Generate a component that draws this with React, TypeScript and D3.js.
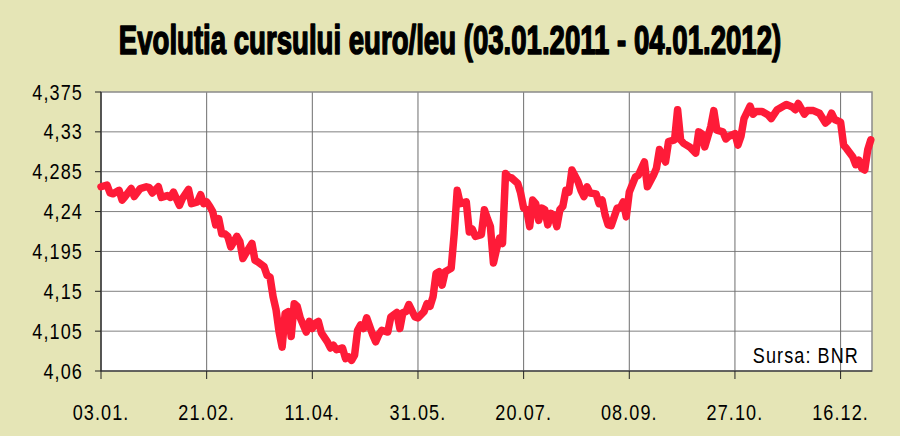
import React from "react";
import * as d3 from "d3";

// business-day index (0 = 03.01.2011) and EUR/RON rate
const dayIndex = [
  0, 2, 3, 4, 6, 7, 8, 10, 11, 13, 15, 16, 17, 19, 20, 22, 23, 24, 26, 27, 29, 30,
  32, 33, 34, 35, 36, 37, 38, 39, 40, 41, 42, 43, 45, 46, 47, 48, 50, 51, 52, 54,
  55, 56, 57, 58, 59, 60, 61, 62, 63, 64, 65, 66, 68, 69, 70, 71, 72, 73, 75, 76,
  77, 78, 80, 81, 82, 83, 84, 85, 86, 87, 88, 90, 91, 92, 93, 95, 96, 98, 99, 100,
  101, 102, 104, 105, 107, 108, 109, 110, 111, 112, 113, 114, 116, 117, 118, 119,
  121, 122, 123, 124, 126, 127, 128, 129, 130, 131, 132, 133, 134, 135, 136, 138,
  139, 140, 141, 142, 143, 144, 145, 146, 147, 148, 149, 150, 151, 152, 153, 154,
  155, 156, 158, 159, 160, 161, 162, 164, 165, 166, 167, 168, 169, 171, 172, 173,
  174, 175, 177, 178, 180, 181, 183, 184, 185, 187, 188, 190, 191, 192, 193, 195,
  197, 198, 199, 200, 202, 203, 204, 206, 207, 208, 210, 211, 212, 213, 215, 216,
  217, 219, 221, 222, 224, 225, 227, 229, 230, 231, 233, 234, 236, 238, 240, 241,
  242, 243, 245, 246, 247, 249, 250, 251, 252, 253, 254, 255,
];

const rate = [
  4.268, 4.27, 4.261, 4.26, 4.264, 4.253, 4.257, 4.266, 4.257, 4.266, 4.268, 4.267,
  4.261, 4.268, 4.256, 4.258, 4.256, 4.262, 4.247, 4.255, 4.265, 4.249, 4.251,
  4.259, 4.249, 4.251, 4.246, 4.24, 4.225, 4.232, 4.215, 4.215, 4.212, 4.2, 4.212,
  4.206, 4.187, 4.193, 4.204, 4.185, 4.183, 4.178, 4.168, 4.166, 4.144, 4.129,
  4.104, 4.087, 4.125, 4.127, 4.099, 4.136, 4.133, 4.12, 4.104, 4.116, 4.108,
  4.114, 4.116, 4.103, 4.093, 4.086, 4.089, 4.084, 4.086, 4.074, 4.076, 4.072,
  4.078, 4.106, 4.112, 4.108, 4.12, 4.101, 4.093, 4.101, 4.106, 4.104, 4.121,
  4.126, 4.108, 4.126, 4.127, 4.135, 4.121, 4.12, 4.127, 4.136, 4.133, 4.144, 4.17,
  4.172, 4.157, 4.172, 4.176, 4.215, 4.264, 4.249, 4.251, 4.217, 4.22, 4.212,
  4.214, 4.242, 4.232, 4.223, 4.182, 4.197, 4.21, 4.204, 4.283, 4.279, 4.278,
  4.272, 4.261, 4.244, 4.242, 4.223, 4.253, 4.249, 4.23, 4.244, 4.242, 4.225,
  4.238, 4.236, 4.223, 4.242, 4.246, 4.264, 4.262, 4.287, 4.274, 4.264, 4.257,
  4.268, 4.261, 4.26, 4.249, 4.253, 4.236, 4.225, 4.224, 4.244, 4.244, 4.251,
  4.234, 4.262, 4.279, 4.281, 4.296, 4.268, 4.281, 4.289, 4.31, 4.296, 4.319,
  4.321, 4.355, 4.321, 4.317, 4.313, 4.306, 4.33, 4.328, 4.313, 4.336, 4.354,
  4.332, 4.33, 4.322, 4.325, 4.328, 4.315, 4.325, 4.345, 4.359, 4.35, 4.353, 4.353,
  4.349, 4.345, 4.355, 4.357, 4.361, 4.358, 4.355, 4.362, 4.35, 4.354, 4.354,
  4.351, 4.34, 4.343, 4.351, 4.344, 4.341, 4.315, 4.311, 4.302, 4.293, 4.298,
  4.289, 4.287, 4.31, 4.321,
];

const xTickIndex = [0, 35, 70, 105, 140, 175, 210, 245];
const xTickLabels = ["03.01.", "21.02.", "11.04.", "31.05.", "20.07.", "08.09.", "27.10.", "16.12."];
const yTicks = [4.06, 4.105, 4.15, 4.195, 4.24, 4.285, 4.33, 4.375];
const yTickLabels = ["4,06", "4,105", "4,15", "4,195", "4,24", "4,285", "4,33", "4,375"];

const titleText = "Evolutia cursului euro/leu (03.01.2011 - 04.01.2012)";
const sourceText = "Sursa: BNR";

const W = 900;
const H = 436;
const L = 101;
const R = 872;
const T = 92;
const B = 371;

const FONT = "'Liberation Sans', Arial, Helvetica, sans-serif";

// condensed label helper: draws text horizontally squeezed around its anchor
function Label(props: { x: number; y: number; anchor: "start" | "middle" | "end"; text: string; size?: number; sx?: number; ls?: number }) {
  const { x, y, anchor, text, size = 21.5, sx = 0.84, ls = 1.3 } = props;
  return (
    <text
      transform={`translate(${x},${y}) scale(${sx},1)`}
      textAnchor={anchor}
      fontFamily={FONT}
      fontSize={size}
      letterSpacing={ls}
      fill="#000"
    >
      {text}
    </text>
  );
}

export default function App() {
  const x = d3.scaleLinear().domain([0, 255.4]).range([L, R]);
  const y = d3.scaleLinear().domain([4.06, 4.375]).range([B, T]);
  const pts: [number, number][] = dayIndex.map((d, i) => [d, rate[i]]);
  const line = d3
    .line<[number, number]>()
    .x((d) => x(d[0]))
    .y((d) => y(d[1]))
    .curve(d3.curveLinear);

  return (
    <svg
      width={W}
      height={H}
      style={{ position: "absolute", left: 0, top: 0, display: "block" }}
    >
      <rect x={0} y={0} width={W} height={H} fill="#e5e5b6" />
      <text
        transform="translate(450,54) scale(0.673,1)"
        textAnchor="middle"
        fontFamily={FONT}
        fontWeight="bold"
        fontSize={41}
        fill="#000"
        stroke="#000"
        strokeWidth={1.6}
        strokeLinejoin="round"
      >
        {titleText}
      </text>

      <rect x={L} y={T} width={R - L} height={B - T} fill="#ffffff" />

      {yTicks.slice(1, -1).map((v) => (
        <line key={"gy" + v} x1={L} x2={R} y1={y(v)} y2={y(v)} stroke="#808080" strokeWidth={1} />
      ))}
      {xTickIndex.slice(1).map((d) => (
        <line key={"gx" + d} x1={x(d)} x2={x(d)} y1={T} y2={B} stroke="#6e6e6e" strokeWidth={1} />
      ))}

      <Label x={859} y={363} anchor="end" text={sourceText} />

      {/* plot border */}
      <rect x={L} y={T} width={R - L} height={B - T} fill="none" stroke="#8a8a8a" strokeWidth={1.5} />

      {/* axes */}
      <line x1={L} x2={L} y1={T} y2={B} stroke="#222" strokeWidth={1.2} />
      <line x1={L} x2={R} y1={B} y2={B} stroke="#222" strokeWidth={1.2} />
      {yTicks.map((v, i) => (
        <g key={"yt" + v}>
          <line x1={L - 6} x2={L} y1={y(v)} y2={y(v)} stroke="#222" strokeWidth={1} />
          <Label x={83} y={y(v) + 7.5} anchor="end" text={yTickLabels[i]} />
        </g>
      ))}
      {xTickIndex.map((d, i) => (
        <g key={"xt" + d}>
          <line x1={x(d)} x2={x(d)} y1={B} y2={B + 8} stroke="#222" strokeWidth={1} />
          <Label x={x(d)} y={420} anchor="middle" text={xTickLabels[i]} />
        </g>
      ))}

      <path
        d={line(pts) || ""}
        fill="none"
        stroke="#fe1b38"
        strokeWidth={7.5}
        strokeLinejoin="round"
        strokeLinecap="round"
      />
    </svg>
  );
}
